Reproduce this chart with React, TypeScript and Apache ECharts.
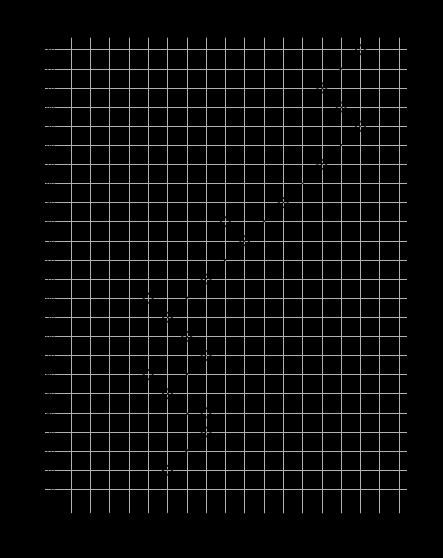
import React, { useEffect, useRef } from "react";
import * as echarts from "echarts";

const xLabels = ["1","2","3","4","5","6","7","8","9","10","11","12","13","14","15","16","17","18"];
const yLabels = ["230","220","210","200","190","180","170","160","150","140","130","120","110","100","90","80","70","60","50","40","30","20","10","0"];

// main path (column index, row index)
const pathX = [15, 13, 15, 13, 11, 9, 7, 5, 7, 5, 7, 5];
const pathY = [0, 2, 4, 6, 8, 10, 12, 14, 16, 18, 20, 22];

// additional single markers (column index, row index)
const extraX = [14, 8, 4, 6, 4, 7];
const extraY = [3, 9, 13, 15, 17, 19];

const GRID = "#b0b0b0";

export default function App() {
  const ref = useRef<HTMLDivElement>(null);
  useEffect(() => {
    document.body.style.margin = "0";
    document.body.style.background = "#000";
    const chart = echarts.init(ref.current!, undefined, { renderer: "svg" });
    const pathData = pathX.map((x, i) => [x, pathY[i]]);
    const extraData = extraX.map((x, i) => [x, extraY[i]]);
    const lbl = { color: "#000", fontSize: 7, fontFamily: "DejaVu Sans" };
    chart.setOption({
      animation: false,
      backgroundColor: "#000",
      grid: { left: 71, right: 44, top: 49.7, bottom: 68.7 },
      xAxis: [
        {
          type: "category",
          position: "bottom",
          data: xLabels,
          boundaryGap: false,
          axisLine: { show: false },
          axisTick: { show: true, interval: 0, length: 24, lineStyle: { color: GRID, width: 1 } },
          axisLabel: { ...lbl, interval: 0, margin: 23 },
          splitLine: { show: true, interval: 0, lineStyle: { color: GRID, width: 1 } },
        },
        {
          type: "category",
          position: "top",
          data: xLabels,
          boundaryGap: false,
          axisLine: { show: false },
          axisTick: { show: true, interval: 0, length: 12, lineStyle: { color: GRID, width: 1 } },
          axisLabel: { ...lbl, interval: 0, margin: 12 },
          splitLine: { show: false },
        },
      ],
      yAxis: [
        {
          type: "category",
          position: "left",
          data: yLabels,
          inverse: true,
          boundaryGap: false,
          axisLine: { show: false },
          axisTick: { show: true, interval: 0, length: 26, lineStyle: { color: GRID, width: 1 } },
          axisLabel: { ...lbl, interval: 0, margin: 16 },
          splitLine: { show: true, interval: 0, lineStyle: { color: GRID, width: 1 } },
        },
        {
          type: "category",
          position: "right",
          data: yLabels,
          inverse: true,
          boundaryGap: false,
          axisLine: { show: false },
          axisTick: { show: true, interval: 0, length: 8, lineStyle: { color: GRID, width: 1 } },
          axisLabel: { show: false },
          splitLine: { show: false },
        },
      ],
      series: [
        {
          type: "line",
          data: pathData,
          symbol: "none",
          lineStyle: { color: "#000", width: 1.2 },
          z: 3,
        },
        {
          type: "scatter",
          data: pathData.concat(extraData),
          symbol: "circle",
          symbolSize: 9,
          itemStyle: { color: "rgba(0,0,0,0)", borderColor: "#000", borderWidth: 2 },
          z: 4,
        },
      ],
    });
    return () => chart.dispose();
  }, []);
  return <div ref={ref} style={{ width: 443, height: 558 }} />;
}
